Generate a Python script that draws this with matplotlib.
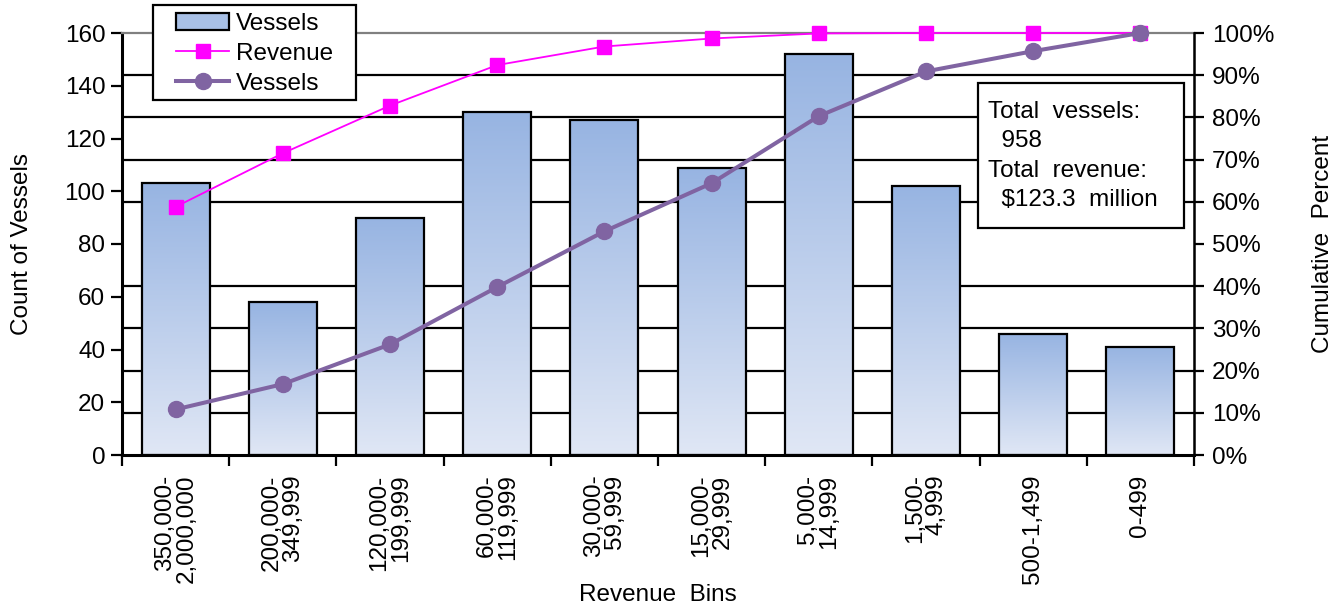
import matplotlib
matplotlib.use("Agg")
import matplotlib.pyplot as plt
from matplotlib.colors import LinearSegmentedColormap
from matplotlib.lines import Line2D
from matplotlib.patches import Patch, Rectangle
from matplotlib.ticker import FuncFormatter
import numpy as np

plt.rcParams["font.family"] = ["Liberation Sans", "DejaVu Sans"]

bins = [
    "350,000-\n2,000,000",
    "200,000-\n349,999",
    "120,000-\n199,999",
    "60,000-\n119,999",
    "30,000-\n59,999",
    "15,000-\n29,999",
    "5,000-\n14,999",
    "1,500-\n4,999",
    "500-1,499",
    "0-499",
]
vessel_counts = [103, 58, 90, 130, 127, 109, 152, 102, 46, 41]
cum_revenue_pct = [58.8, 71.5, 82.8, 92.4, 96.8, 98.7, 99.9, 100, 100, 100]
cum_vessels_pct = [10.8, 16.8, 26.2, 39.8, 53.0, 64.4, 80.3, 90.9, 95.7, 100]
count_ticks = [0, 20, 40, 60, 80, 100, 120, 140, 160]
pct_ticks = [0, 10, 20, 30, 40, 50, 60, 70, 80, 90, 100]

BAR_TOP = "#97B4E2"
BAR_BOTTOM = "#E0E7F5"
REV_COLOR = "#FF00FF"
VES_COLOR = "#8064A2"
FS = 17.5
W, H = 1343, 610

fig = plt.figure(figsize=(W / 100, H / 100), dpi=100)
fig.subplots_adjust(left=122 / W, right=1194 / W, top=1 - 33 / H, bottom=1 - 455 / H)
ax = fig.add_subplot(111)

x = np.arange(len(bins))

# gradient bars
bars = ax.bar(x, vessel_counts, width=0.635, color="none", edgecolor="black", linewidth=1.6, zorder=3)
cmap = LinearSegmentedColormap.from_list("bar", [BAR_BOTTOM, BAR_TOP])
grad = np.linspace(0, 1, 256).reshape(-1, 1)
for b in bars:
    x0, w, h = b.get_x(), b.get_width(), b.get_height()
    im = ax.imshow(grad, extent=[x0, x0 + w, 0, h], origin="lower", aspect="auto",
                   cmap=cmap, zorder=2)
    im.set_clip_path(b)

ax.set_xlim(-0.5, len(bins) - 0.5)
ax.set_ylim(0, 160)
ax.set_yticks(count_ticks)
ax.tick_params(axis="y", labelsize=FS, length=8, width=1.6, direction="out", pad=4)

# horizontal grid lines follow the percent axis (every 10%)
ax.set_yticks([160 * p / 100 for p in pct_ticks[1:-1]], minor=True)
ax.tick_params(axis="y", which="minor", length=0)
ax.grid(True, axis="y", which="minor", color="black", linewidth=1.6)
ax.set_axisbelow(True)

# x ticks at category boundaries, labels at centres
ax.set_xticks(np.arange(-0.5, len(bins), 1.0))
ax.set_xticklabels([])
ax.tick_params(axis="x", which="major", length=8, width=1.6, direction="out")
ax.set_xticks(x, minor=True)
ax.set_xticklabels(bins, minor=True, rotation=90, fontsize=FS, va="top", ha="center",
                   multialignment="right", linespacing=0.97)
ax.tick_params(axis="x", which="minor", length=0, pad=14)

for s in ["left", "bottom"]:
    ax.spines[s].set_linewidth(2.2)
ax.spines["top"].set_color("#808080")
ax.spines["top"].set_linewidth(1.6)

ax.set_ylabel("Count of Vessels", fontsize=FS)
ax.yaxis.set_label_coords(-0.083, 0.5)
ax.set_xlabel("Revenue  Bins", fontsize=FS)
ax.xaxis.set_label_coords(0.5, -0.305)

# cumulative percent axis
ax2 = ax.twinx()
ax2.set_ylim(0, 100)
ax2.set_yticks(pct_ticks)
ax2.yaxis.set_major_formatter(FuncFormatter(lambda v, _: f"{v:.0f}%"))
ax2.tick_params(axis="y", labelsize=FS, length=7, width=1.6, direction="out", pad=6)
ax2.spines["right"].set_linewidth(1.8)
ax2.spines["top"].set_visible(False)
ax2.spines["left"].set_visible(False)
ax2.spines["bottom"].set_visible(False)
ax2.set_ylabel("Cumulative  Percent", fontsize=FS)
ax2.yaxis.set_label_coords(1.110, 0.5)

ax2.plot(x, cum_revenue_pct, color=REV_COLOR, linewidth=1.3, marker="s", markersize=10.5,
         clip_on=False, zorder=4)
ax2.plot(x, cum_vessels_pct, color=VES_COLOR, linewidth=2.9, marker="o", markersize=11.5,
         clip_on=False, zorder=5)

# legend, with an Excel-like roomy frame drawn separately
handles = [
    Patch(facecolor="#A8C0E6", edgecolor="black", linewidth=1.6),
    Line2D([], [], color=REV_COLOR, linewidth=1.3, marker="s", markersize=10.5),
    Line2D([], [], color=VES_COLOR, linewidth=2.9, marker="o", markersize=11.5),
]
fig.patches.append(Rectangle((153 / W, 1 - 100 / H), 203 / W, 95 / H, transform=fig.transFigure,
                             facecolor="white", edgecolor="black", linewidth=1.6, zorder=9))
leg = fig.legend(handles, ["Vessels", "Revenue", "Vessels"], loc="upper left",
                 bbox_to_anchor=(176 / W, 1 - 13 / H), bbox_transform=fig.transFigure,
                 fontsize=FS, frameon=False, borderaxespad=0, borderpad=0,
                 labelspacing=0.32, handlelength=2.2, handletextpad=0.25)
leg.set_zorder(10)

fig.patches.append(Rectangle((978 / W, 1 - 228 / H), 206 / W, 145 / H, transform=fig.transFigure,
                             facecolor="white", edgecolor="black", linewidth=1.6, zorder=9))
fig.text(988 / W, 1 - 101 / H,
         "Total  vessels:\n  958\nTotal  revenue:\n  $123.3  million",
         fontsize=FS, va="top", ha="left", linespacing=1.43, zorder=10)

fig.savefig("out.png", dpi=100)
